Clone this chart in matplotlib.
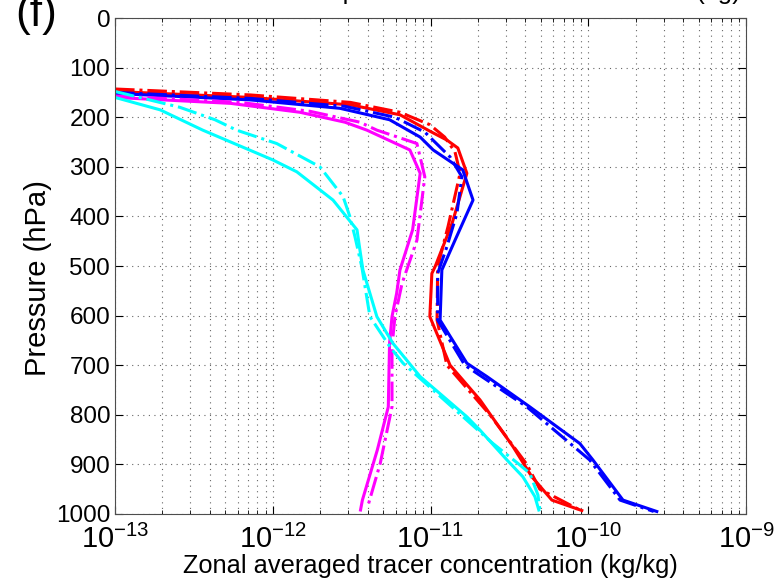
import numpy as np
import matplotlib
matplotlib.use("Agg")
import matplotlib.pyplot as plt

plt.rcParams['font.family'] = ['Liberation Sans', 'DejaVu Sans']
plt.rcParams['mathtext.fontset'] = 'custom'
plt.rcParams['mathtext.rm'] = 'Liberation Sans'
plt.rcParams['mathtext.it'] = 'Liberation Sans'

# pressure (hPa) and tracer concentration (kg/kg)
p_red = [148, 160, 175, 195, 228, 246, 262, 313, 414, 501, 515, 602, 700, 770, 864, 925, 972, 993]
c_red = [1.0e-13, 7.2e-13, 3.1e-12, 6.4e-12, 9.9e-12, 1.27e-11, 1.49e-11, 1.70e-11, 1.37e-11,
         1.07e-11, 1.02e-11, 9.9e-12, 1.33e-11, 2.06e-11, 3.33e-11, 4.39e-11, 5.88e-11, 9.1e-11]

p_red_dd = [143, 155, 170, 190, 215, 240, 270, 313, 421, 501, 609, 700, 800, 900, 950, 990]
c_red_dd = [1.0e-13, 7.2e-13, 3.1e-12, 6.4e-12, 9.9e-12, 1.23e-11, 1.43e-11, 1.54e-11, 1.29e-11,
            1.11e-11, 1.10e-11, 1.27e-11, 2.38e-11, 4.08e-11, 4.93e-11, 8.6e-11]

p_blue = [152, 165, 182, 205, 240, 266, 306, 367, 448, 508, 609, 696, 723, 784, 858, 891, 972, 995]
c_blue = [1.0e-13, 7.2e-13, 2.67e-12, 5.5e-12, 8.6e-12, 1.04e-11, 1.60e-11, 1.86e-11, 1.43e-11,
          1.18e-11, 1.15e-11, 1.70e-11, 2.28e-11, 4.26e-11, 8.85e-11, 1.07e-10, 1.66e-10, 2.72e-10]

p_blue_dd = [150, 162, 178, 200, 230, 280, 320, 394, 461, 515, 609, 700, 784, 891, 972, 995]
c_blue_dd = [1.0e-13, 7.2e-13, 2.87e-12, 5.95e-12, 9.2e-12, 1.33e-11, 1.58e-11, 1.47e-11, 1.27e-11,
             1.11e-11, 1.11e-11, 1.65e-11, 4.08e-11, 1.02e-10, 1.59e-10, 2.60e-10]

p_mag = [160, 172, 190, 210, 226, 266, 313, 427, 508, 555, 602, 656, 784, 871, 972, 992]
c_mag = [1.0e-13, 5.4e-13, 1.49e-12, 2.87e-12, 3.95e-12, 7.4e-12, 8.6e-12, 7.7e-12, 6.4e-12,
         6.1e-12, 5.7e-12, 5.5e-12, 5.4e-12, 4.6e-12, 3.7e-12, 3.6e-12]

p_mag_dd = [157, 170, 188, 210, 226, 253, 320, 448, 535, 602, 663, 784, 898, 985]
c_mag_dd = [1.0e-13, 6.2e-13, 1.72e-12, 3.57e-12, 4.57e-12, 8.2e-12, 9.2e-12, 8.2e-12, 6.6e-12,
            5.95e-12, 5.7e-12, 5.7e-12, 4.8e-12, 4.0e-12]

p_cyan = [160, 185, 226, 286, 310, 367, 427, 468, 508, 602, 656, 723, 804, 831, 891, 925, 965, 992]
c_cyan = [1.0e-13, 1.93e-13, 3.6e-13, 1.0e-12, 1.42e-12, 2.41e-12, 3.42e-12, 3.57e-12, 3.73e-12,
          4.57e-12, 5.78e-12, 8.6e-12, 1.70e-11, 2.06e-11, 3.05e-11, 3.85e-11, 4.59e-11, 4.86e-11]

p_cyan_dd = [148, 180, 205, 226, 253, 300, 360, 400, 441, 502, 602, 663, 696, 858, 898, 918, 962, 992]
c_cyan_dd = [1.0e-13, 2.58e-13, 4.3e-13, 5.9e-13, 1.06e-12, 1.99e-12, 2.79e-12, 3.08e-12, 3.32e-12,
             3.67e-12, 4.13e-12, 5.53e-12, 6.7e-12, 2.49e-11, 3.58e-11, 4.26e-11, 4.80e-11, 4.93e-11]

y_ticks = list(range(0, 1001, 100))

fig = plt.figure(figsize=(7.75, 5.83), dpi=100)
ax = fig.add_axes([0.1484, 0.1184, 0.8142, 0.8506])

lw = 2.2
ax.plot(c_red, p_red, color='#ff0000', lw=lw, ls='-')
ax.plot(c_red_dd, p_red_dd, color='#ff0000', lw=lw, ls='-.')
ax.plot(c_blue, p_blue, color='#0000ff', lw=lw, ls='-')
ax.plot(c_blue_dd, p_blue_dd, color='#0000ff', lw=lw, ls='-.')
ax.plot(c_mag, p_mag, color='#ff00ff', lw=lw, ls='-')
ax.plot(c_mag_dd, p_mag_dd, color='#ff00ff', lw=lw, ls='-.')
ax.plot(c_cyan, p_cyan, color='#00ffff', lw=lw, ls='-')
ax.plot(c_cyan_dd, p_cyan_dd, color='#00ffff', lw=lw, ls='-.')

ax.set_xscale('log')
ax.set_xlim(1e-13, 1e-9)
ax.set_ylim(1000, 0)
ax.set_yticks(y_ticks)

grid_kw = dict(ls=(0, (1, 4)), color='0.4', lw=0.8)
ax.grid(True, which='major', axis='both', **grid_kw)
ax.grid(True, which='minor', axis='x', **grid_kw)
ax.tick_params(which='both', direction='in', top=True, right=True)
ax.tick_params(axis='y', labelsize=17.5)
ax.tick_params(axis='x', labelsize=21)
ax.tick_params(which='major', length=6)
ax.tick_params(which='minor', length=3)
ax.tick_params(axis='x', which='major', pad=8)
for s in ax.spines.values():
    s.set_color('0.3')

ax.set_xlabel('Zonal averaged tracer concentration (kg/kg)', fontsize=18.3, labelpad=0)
ax.set_ylabel('Pressure (hPa)', fontsize=21)
ax.yaxis.set_label_coords(-0.10, 0.475)

fig.text(0.02, 1 - 26 / 583, '(f)', fontsize=32, va='baseline', ha='left')
fig.text(741 / 775, 1 + 1 / 583, 'Vertical profiles of tracer concentration (kg)', fontsize=18.5,
         va='baseline', ha='right')

fig.savefig('out.png', dpi=100)
